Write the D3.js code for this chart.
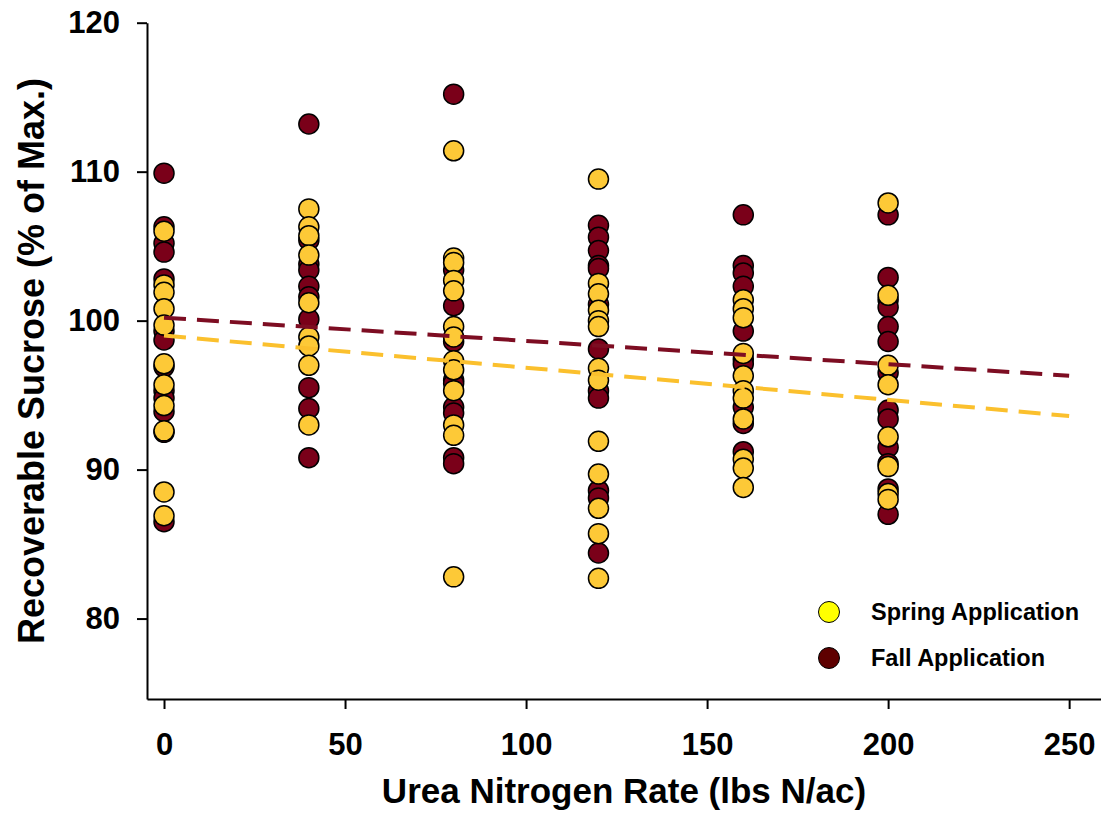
<!DOCTYPE html>
<html>
<head>
<meta charset="utf-8">
<script src="https://cdn.jsdelivr.net/npm/d3@7"></script>
<style>
  body { margin: 0; background: #fff; }
  svg text { font-family: "Liberation Sans", Arial, sans-serif; font-weight: bold; fill: #000; }
</style>
</head>
<body>
<div id="chart"></div>
<script>
// N rates (lbs N/ac) and the recoverable sucrose readings at each rate
const nRates = [0, 40, 80, 120, 160, 200];

const springValues = [
  [106.0, 102.4, 101.9, 100.8, 99.7, 97.1, 95.7, 94.3, 92.6, 88.5, 86.9],
  [107.5, 106.3, 105.7, 104.4, 101.2, 98.9, 98.3, 97.0, 93.0],
  [111.4, 104.2, 103.9, 102.7, 102.0, 99.6, 98.9, 97.3, 96.7, 95.3, 93.0, 92.3, 82.8],
  [109.5, 102.5, 101.8, 100.7, 100.0, 99.6, 96.8, 96.0, 91.9, 89.7, 87.4, 85.7, 82.7],
  [101.4, 100.8, 100.2, 97.8, 96.3, 95.3, 94.8, 93.4, 90.7, 90.1, 88.8],
  [107.9, 101.7, 97.0, 95.7, 92.2, 90.2, 88.4, 88.0]
];

const fallValues = [
  [109.9, 106.3, 105.2, 104.6, 102.8, 99.3, 98.7, 96.9, 95.3, 94.8, 93.9, 92.5, 86.5],
  [113.2, 105.4, 103.8, 103.4, 102.3, 101.6, 100.1, 95.5, 94.1, 90.8],
  [115.2, 103.4, 101.0, 98.6, 96.0, 95.8, 94.2, 93.8, 90.8, 90.4],
  [106.4, 105.6, 104.7, 103.7, 103.5, 101.1, 98.1, 95.3, 94.8, 88.6, 88.1, 84.4],
  [107.1, 103.7, 103.2, 102.3, 99.3, 97.4, 97.1, 94.2, 93.1, 91.2],
  [107.1, 102.9, 101.4, 100.9, 99.6, 98.6, 96.5, 94.0, 93.4, 91.5, 90.4, 88.7, 87.0]
];

// fitted regression lines, end points at 0 and 250
const trendRates = [0, 250];
const springTrend = [99.0, 93.6];
const fallTrend = [100.2, 96.3];

const xTicks = [0, 50, 100, 150, 200, 250];
const yTicks = [80, 90, 100, 110, 120];
const legendLabels = ["Spring Application", "Fall Application"];

class SucroseChart {
  constructor(parentId) {
    this.parentElement = document.getElementById(parentId);
    this.width = 1101;
    this.height = 815;
    this.initVis();
  }

  initVis() {
    this.svg = d3.select(this.parentElement)
      .append("svg")
      .attr("width", this.width)
      .attr("height", this.height);

    this.x = d3.scaleLinear().domain([-4.7, 258.8]).range([147, 1101]);
    this.y = d3.scaleLinear().domain([74.6, 120]).range([699, 22.7]);

    this.prepareData();
    this.drawAxes();
    this.updateVis();
  }

  prepareData() {
    const flatten = (values, group) => nRates.flatMap((rate, i) =>
      values[i].map(v => ({ rate, value: v, group })));
    this.points = flatten(fallValues, "fall").concat(flatten(springValues, "spring"));
    this.trends = [
      { group: "fall", pts: trendRates.map((r, i) => ({ rate: r, value: fallTrend[i] })) },
      { group: "spring", pts: trendRates.map((r, i) => ({ rate: r, value: springTrend[i] })) }
    ];
  }

  drawAxes() {
    const xAxis = d3.axisBottom(this.x).tickValues(xTicks).tickSize(10).tickSizeOuter(0).tickPadding(24);
    const yAxis = d3.axisLeft(this.y).tickValues(yTicks).tickSize(10).tickSizeOuter(0).tickPadding(17);

    const gx = this.svg.append("g")
      .attr("transform", `translate(0, ${this.y.range()[0]})`)
      .call(xAxis);
    const gy = this.svg.append("g")
      .attr("transform", `translate(${this.x.range()[0]}, 0)`)
      .call(yAxis);

    [gx, gy].forEach(g => {
      g.selectAll("path, line").attr("stroke", "#000").attr("stroke-width", 2);
      g.selectAll("text").style("font-size", "31px").attr("fill", "#000");
    });

    this.svg.append("text")
      .attr("x", 624)
      .attr("y", 803)
      .attr("text-anchor", "middle")
      .style("font-size", "35px")
      .text("Urea Nitrogen Rate (lbs N/ac)");

    this.svg.append("text")
      .attr("transform", "translate(44, 361) rotate(-90)")
      .attr("text-anchor", "middle")
      .style("font-size", "36px")
      .text("Recoverable Sucrose (% of Max.)");
  }

  updateVis() {
    const fill = { spring: "#fdc937", fall: "#7a0019" };
    const lineColor = { spring: "#fbc02d", fall: "#7d0d22" };

    this.svg.append("g")
      .selectAll("circle")
      .data(this.points)
      .join("circle")
      .attr("cx", d => this.x(d.rate))
      .attr("cy", d => this.y(d.value))
      .attr("r", 10)
      .attr("fill", d => fill[d.group])
      .attr("stroke", "#000")
      .attr("stroke-width", 1.5);

    const line = d3.line()
      .x(d => this.x(d.rate))
      .y(d => this.y(d.value));

    this.svg.append("g")
      .selectAll("path")
      .data(this.trends)
      .join("path")
      .attr("d", d => line(d.pts))
      .attr("fill", "none")
      .attr("stroke", d => lineColor[d.group])
      .attr("stroke-width", 4)
      .attr("stroke-dasharray", "22,11");

    // legend
    const legendFill = ["#ffff00", "#5e0000"];
    const legend = this.svg.append("g")
      .selectAll("g")
      .data(legendLabels)
      .join("g")
      .attr("transform", (d, i) => `translate(829, ${612 + i * 46})`);

    legend.append("circle")
      .attr("r", 10.5)
      .attr("fill", (d, i) => legendFill[i])
      .attr("stroke", "#000")
      .attr("stroke-width", 1);

    legend.append("text")
      .attr("x", 42)
      .attr("dy", "0.36em")
      .style("font-size", "23.5px")
      .text(d => d);
  }
}

new SucroseChart("chart");
</script>
</body>
</html>
